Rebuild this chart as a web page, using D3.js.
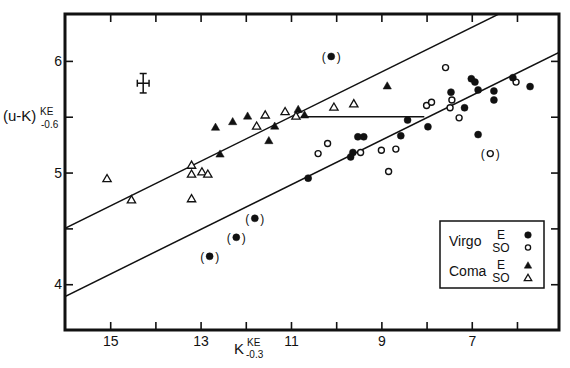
<!DOCTYPE html>
<html>
<head>
<meta charset="utf-8">
<script src="https://cdn.jsdelivr.net/npm/d3@7"></script>
<style>
  body { margin: 0; background: #fff; }
  svg { font-family: "Liberation Sans", Arial, sans-serif; }
  .tick line { stroke: #111; stroke-width: 1.6; }
  .tick text { font-size: 14px; fill: #111; }
</style>
</head>
<body>
<div id="chart"></div>
<script>
// data: [K(-0.3), (u-K)(-0.6)]
var virgoE = [[8.42,5.47],[7.97,5.41],[8.57,5.33],[9.52,5.32],[9.39,5.32],[9.63,5.18],[9.68,5.14],
  [10.62,4.95],[7.46,5.72],[7.16,5.58],[7.01,5.84],[6.93,5.81],[6.86,5.74],[6.51,5.73],[6.51,5.65],
  [6.86,5.34],[6.09,5.85],[5.71,5.77]];
var virgoEParen = [[10.11,6.04],[11.80,4.59],[12.21,4.42],[12.80,4.25]];
var virgoS0 = [[7.58,5.94],[8.00,5.60],[7.89,5.63],[7.44,5.65],[7.48,5.58],[7.28,5.49],[10.19,5.26],
  [10.40,5.17],[9.46,5.18],[9.00,5.20],[8.68,5.21],[8.84,5.01],[6.02,5.81]];
var virgoS0Paren = [[6.59,5.17]];
var comaE = [[12.67,5.40],[12.29,5.45],[11.96,5.50],[11.36,5.41],[11.49,5.28],[12.57,5.16],
  [10.84,5.56],[10.70,5.51],[8.87,5.77]];
var comaS0 = [[11.57,5.51],[11.76,5.41],[11.13,5.54],[10.89,5.50],[13.20,5.06],[13.20,4.98],
  [12.97,5.00],[12.84,4.98],[15.07,4.94],[14.53,4.75],[13.20,4.76],[10.05,5.58],[9.61,5.61]];

// fitted relations u-K = a + b*(16-K)
var fits = [{a: 4.50, b: 0.2}, {a: 3.89, b: 0.2}];
var connector = {y: 5.5, k1: 10.78, k2: 8.05};
var errorBar = {k: 14.27, u: 5.80, dk: 0.13, du: 0.087};

var xTicks = [6, 7, 8, 9, 10, 11, 12, 13, 14, 15];
var yTicks = [4, 4.5, 5, 5.5, 6];

var svgWidth = 570, svgHeight = 368;
var margin = {top: 14, right: 11, bottom: 38, left: 65};
var width = svgWidth - margin.left - margin.right;
var height = svgHeight - margin.top - margin.bottom;

var svg = d3.select("#chart").append("svg")
  .attr("width", svgWidth)
  .attr("height", svgHeight);

var chartGroup = svg.append("g")
  .attr("transform", `translate(${margin.left}, ${margin.top})`);

var x = d3.scaleLinear().domain([16.0, 5.07]).range([0, width]);
var y = d3.scaleLinear().domain([3.59, 6.42]).range([height, 0]);

// axes, ticks pointing inward
chartGroup.append("g")
  .attr("transform", `translate(0, ${height})`)
  .call(d3.axisBottom(x).tickValues(xTicks).tickSize(-8).tickPadding(6)
    .tickFormat(d => d % 2 ? d : ""));
chartGroup.append("g")
  .call(d3.axisTop(x).tickValues(xTicks).tickSize(-8).tickFormat(""));
chartGroup.append("g")
  .call(d3.axisLeft(y).tickValues(yTicks).tickSize(-8).tickPadding(3)
    .tickFormat(d => Number.isInteger(d) ? d : ""));
chartGroup.append("g")
  .attr("transform", `translate(${width}, 0)`)
  .call(d3.axisRight(y).tickValues(yTicks).tickSize(-8).tickFormat(""));
chartGroup.selectAll(".domain").remove();

// clip for the fit lines
chartGroup.append("clipPath").attr("id", "clip")
  .append("rect").attr("width", width).attr("height", height);

var lineGen = d3.line().x(d => x(d[0])).y(d => y(d[1]));
var kRange = x.domain();
chartGroup.selectAll(".fit")
  .data(fits)
  .enter()
  .append("path")
  .attr("class", "fit")
  .attr("clip-path", "url(#clip)")
  .attr("d", f => lineGen(kRange.map(k => [k, f.a + f.b * (16 - k)])))
  .attr("fill", "none")
  .attr("stroke", "#111")
  .attr("stroke-width", 1.5);

chartGroup.append("path")
  .attr("d", lineGen([[connector.k1, connector.y], [connector.k2, connector.y]]))
  .attr("stroke", "#111")
  .attr("stroke-width", 1.5);

// error bar cross
var eb = chartGroup.append("g").attr("stroke", "#111").attr("stroke-width", 1.5);
var ex = x(errorBar.k), ey = y(errorBar.u);
var ex1 = x(errorBar.k + errorBar.dk), ex2 = x(errorBar.k - errorBar.dk);
var ey1 = y(errorBar.u + errorBar.du), ey2 = y(errorBar.u - errorBar.du);
eb.append("line").attr("x1", ex).attr("x2", ex).attr("y1", ey1).attr("y2", ey2);
eb.append("line").attr("x1", ex1).attr("x2", ex2).attr("y1", ey).attr("y2", ey);
eb.append("line").attr("x1", ex - 3.5).attr("x2", ex + 3.5).attr("y1", ey1).attr("y2", ey1);
eb.append("line").attr("x1", ex - 3.5).attr("x2", ex + 3.5).attr("y1", ey2).attr("y2", ey2);
eb.append("line").attr("x1", ex1).attr("x2", ex1).attr("y1", ey - 3.5).attr("y2", ey + 3.5);
eb.append("line").attr("x1", ex2).attr("x2", ex2).attr("y1", ey - 3.5).attr("y2", ey + 3.5);

// markers
var triangle = d3.symbol().type(d3.symbolTriangle).size(30);

function drawCircles(data, filled) {
  chartGroup.append("g").selectAll("circle")
    .data(data)
    .enter()
    .append("circle")
    .attr("cx", d => x(d[0]))
    .attr("cy", d => y(d[1]))
    .attr("r", filled ? 3.5 : 3)
    .attr("fill", filled ? "#111" : "#fff")
    .attr("stroke", "#111")
    .attr("stroke-width", filled ? 0.5 : 1.4);
}

function drawTriangles(data, filled) {
  chartGroup.append("g").selectAll("path")
    .data(data)
    .enter()
    .append("path")
    .attr("d", triangle)
    .attr("transform", d => `translate(${x(d[0])}, ${y(d[1])})`)
    .attr("fill", filled ? "#111" : "#fff")
    .attr("stroke", "#111")
    .attr("stroke-width", filled ? 0.5 : 1.3);
}

function drawParens(data) {
  var g = chartGroup.append("g").selectAll("g")
    .data(data)
    .enter()
    .append("g")
    .attr("transform", d => `translate(${x(d[0])}, ${y(d[1])})`)
    .style("font-size", "12px")
    .attr("fill", "#111");
  g.append("text").attr("x", -5.5).attr("dy", "0.35em").attr("text-anchor", "end").text("(");
  g.append("text").attr("x", 5.5).attr("dy", "0.35em").attr("text-anchor", "start").text(")");
}

drawTriangles(comaS0, false);
drawTriangles(comaE, true);
drawCircles(virgoS0, false);
drawCircles(virgoE, true);
drawCircles(virgoEParen, true);
drawParens(virgoEParen);
drawCircles(virgoS0Paren, false);
drawParens(virgoS0Paren);

// frame
chartGroup.append("rect")
  .attr("width", width)
  .attr("height", height)
  .attr("fill", "none")
  .attr("stroke", "#111")
  .attr("stroke-width", 3);

// axis labels
var ylab = svg.append("g").attr("fill", "#111");
ylab.append("text").attr("x", 3).attr("y", 121).style("font-size", "15px").text("(u-K)");
ylab.append("text").attr("x", 40).attr("y", 115).style("font-size", "10px").text("KE");
ylab.append("text").attr("x", 41).attr("y", 128).style("font-size", "10px").text("-0.6");

var xlab = svg.append("g").attr("fill", "#111");
xlab.append("text").attr("x", 234).attr("y", 354).style("font-size", "15px").text("K");
xlab.append("text").attr("x", 247).attr("y", 346).style("font-size", "10px").text("KE");
xlab.append("text").attr("x", 246).attr("y", 358).style("font-size", "10px").text("-0.3");

// legend
var legend = svg.append("g").attr("fill", "#111");
legend.append("rect")
  .attr("x", 440).attr("y", 221).attr("width", 104).attr("height", 67)
  .attr("fill", "#fff").attr("stroke", "#111").attr("stroke-width", 1.5);

var legendGroups = [
  {name: "Virgo", cy: 241, rows: [{t: "E", kind: "circle", filled: true}, {t: "SO", kind: "circle", filled: false}]},
  {name: "Coma", cy: 271, rows: [{t: "E", kind: "tri", filled: true}, {t: "SO", kind: "tri", filled: false}]}
];
legendGroups.forEach(function(grp) {
  legend.append("text").attr("x", 449).attr("y", grp.cy).attr("dy", "0.35em")
    .style("font-size", "14px").text(grp.name);
  grp.rows.forEach(function(r, i) {
    var ry = grp.cy - 6 + i * 12.5;
    legend.append("text").attr("x", 501).attr("y", ry).attr("dy", "0.35em")
      .attr("text-anchor", "middle").style("font-size", "12px").text(r.t);
    if (r.kind === "circle") {
      legend.append("circle").attr("cx", 528).attr("cy", ry).attr("r", r.filled ? 3.3 : 2.6)
        .attr("fill", r.filled ? "#111" : "#fff").attr("stroke", "#111")
        .attr("stroke-width", r.filled ? 0.5 : 1.3);
    } else {
      legend.append("path").attr("d", d3.symbol().type(d3.symbolTriangle).size(24))
        .attr("transform", `translate(528, ${ry + 1})`)
        .attr("fill", r.filled ? "#111" : "#fff").attr("stroke", "#111")
        .attr("stroke-width", r.filled ? 0.5 : 1.3);
    }
  });
});
</script>
</body>
</html>
